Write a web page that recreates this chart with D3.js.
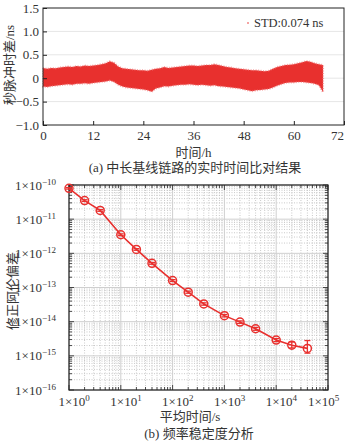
<!DOCTYPE html>
<html><head><meta charset="utf-8">
<script src="https://cdn.jsdelivr.net/npm/d3@7/dist/d3.min.js"></script>
<style>
body{margin:0;background:#fff;}
svg{display:block;}
</style></head><body>
<svg id="c" width="347" height="443"></svg>
<script>
// ---- Panel (a) data: envelope of pulse-per-second time difference (ns) per hour ----
const hours = d3.range(0, 68);
const upperNs = [0.22,0.20,0.22,0.21,0.23,0.24,0.25,0.24,0.26,0.25,0.27,0.26,0.27,0.28,0.30,0.32,0.36,0.33,0.25,0.21,
  0.20,0.19,0.18,0.17,0.17,0.16,0.18,0.20,0.21,0.24,0.22,0.23,0.24,0.25,0.26,0.27,0.27,0.26,0.27,0.28,
  0.28,0.30,0.28,0.26,0.24,0.23,0.21,0.20,0.19,0.18,0.17,0.17,0.16,0.15,0.16,0.20,0.24,0.26,0.28,0.29,
  0.30,0.32,0.34,0.37,0.35,0.32,0.30,0.28];
const lowerNs = [-0.18,-0.19,-0.17,-0.16,-0.15,-0.14,-0.13,-0.14,-0.12,-0.12,-0.11,-0.12,-0.10,-0.09,-0.08,-0.07,-0.05,-0.08,-0.14,-0.18,
  -0.20,-0.21,-0.22,-0.23,-0.24,-0.26,-0.29,-0.22,-0.20,-0.17,-0.18,-0.16,-0.15,-0.14,-0.14,-0.13,-0.14,-0.15,-0.14,-0.15,
  -0.16,-0.15,-0.17,-0.18,-0.19,-0.20,-0.21,-0.22,-0.24,-0.26,-0.28,-0.26,-0.25,-0.24,-0.23,-0.20,-0.16,-0.13,-0.10,-0.09,
  -0.09,-0.08,-0.08,-0.09,-0.10,-0.12,-0.15,-0.30];
const xTicksA = [0,12,24,36,48,60,72];
const yTicksA = [-1.0,-0.5,0,0.5,1.0,1.5];
const yTickLabelsA = ["\u22121.0","\u22120.5","0","0.5","1.0","1.5"];
const legendA = "STD:0.074 ns";

// ---- Panel (b) data: modified Allan deviation ----
const tau = [1,2,4,10,20,40,100,200,400,1000,2000,4000,10000,20000,40000];
const mdev = [8.0e-11,3.5e-11,1.8e-11,3.5e-12,1.3e-12,5.1e-13,1.6e-13,7.3e-14,3.3e-14,1.5e-14,9.7e-15,6.2e-15,2.9e-15,2.05e-15,1.65e-15];
const errHi = [8.4e-11,3.7e-11,1.9e-11,3.7e-12,1.37e-12,5.4e-13,1.7e-13,7.8e-14,3.55e-14,1.62e-14,1.05e-14,6.8e-15,3.2e-15,2.55e-15,2.8e-15];
const errLo = [7.6e-11,3.3e-11,1.7e-11,3.3e-12,1.23e-12,4.8e-13,1.5e-13,6.8e-14,3.05e-14,1.38e-14,8.9e-15,5.6e-15,2.6e-15,1.7e-15,1.2e-15];
const xExpB = [0,1,2,3,4,5];
const yExpB = [-10,-11,-12,-13,-14,-15,-16];

const red = "#e8302e";
const FONT = "'Liberation Serif','Times New Roman','DejaVu Serif','Noto Sans CJK SC',serif";
const svg = d3.select("#c");
function txt(sel){ return sel.style("font-family",FONT).attr("fill","#333"); }

// ================= Panel (a) =================
{
  const L=43,R=344,T=8,B=125;
  const x = d3.scaleLinear().domain([0,72]).range([L,R]);
  const y = d3.scaleLinear().domain([-1,1.5]).range([B,T]);
  const g = svg.append("g");
  g.selectAll("line.gy").data(yTicksA.filter(v=>v>-1&&v<1.5)).join("line")
    .attr("x1",L).attr("x2",R).attr("y1",d=>y(d)).attr("y2",d=>y(d))
    .attr("stroke","#e6e6e6").attr("stroke-width",1);
  const pts = hours.map((h,i)=>({h,u:upperNs[i],l:lowerNs[i]}));
  const area = d3.area().x(d=>x(d.h)).y0(d=>y(d.l)).y1(d=>y(d.u));
  g.append("path").datum(pts).attr("d",area)
    .attr("fill",red).attr("stroke","#f07070").attr("stroke-width",2).attr("stroke-opacity",0.6).attr("stroke-dasharray","1,1.5");
  g.append("rect").attr("x",L).attr("y",T).attr("width",R-L).attr("height",B-T)
    .attr("fill","none").attr("stroke","#222").attr("stroke-width",1);
  const ax = d3.axisBottom(x).tickValues(xTicksA).tickSize(-4).tickPadding(6).tickFormat(d3.format("d"));
  const gx = g.append("g").attr("transform",`translate(0,${B})`).call(ax);
  const ay = d3.axisLeft(y).tickValues(yTicksA).tickSize(-4).tickPadding(4).tickFormat((d,i)=>yTickLabelsA[i]);
  const gy = g.append("g").attr("transform",`translate(${L},0)`).call(ay);
  [gx,gy].forEach(s=>{s.select(".domain").remove();s.selectAll("line").attr("stroke","#222");
    txt(s.selectAll("text")).style("font-size","13px");});
  gx.selectAll("text").filter(d=>d===72).attr("dx","-7");
  txt(g.append("text")).attr("x",(L+R)/2).attr("y",157).attr("text-anchor","middle").style("font-size","13px").text("时间/h");
  txt(g.append("text")).attr("transform","translate(14,65) rotate(-90)").attr("text-anchor","middle").style("font-size","13px").text("秒脉冲时差/ns");
  g.append("circle").attr("cx",248).attr("cy",23).attr("r",0.8).attr("fill",red);
  txt(g.append("text")).attr("x",254).attr("y",27).style("font-size","12.5px").text(legendA);
  txt(g.append("text")).attr("x",195).attr("y",172).attr("text-anchor","middle").style("font-size","13px").text("(a) 中长基线链路的实时时间比对结果");
}

// ================= Panel (b) =================
{
  const L=69,R=328,T=185,B=390;
  const x = d3.scaleLog().domain([1,1e5]).range([L,R]);
  const y = d3.scaleLog().domain([1e-16,1e-10]).range([B,T]);
  const g = svg.append("g");
  const minorX=[], minorY=[];
  for(let e=0;e<5;e++) for(let k=2;k<10;k++) minorX.push(k*Math.pow(10,e));
  for(let e=-16;e<-10;e++) for(let k=2;k<10;k++) minorY.push(k*Math.pow(10,e));
  const majX = xExpB.map(e=>Math.pow(10,e)), majY = yExpB.map(e=>Math.pow(10,e));
  g.selectAll("line.mx").data(minorX).join("line").attr("x1",d=>x(d)).attr("x2",d=>x(d)).attr("y1",T).attr("y2",B)
    .attr("stroke","#bdbdbd").attr("stroke-width",0.8).attr("stroke-dasharray","1,1.5");
  g.selectAll("line.my").data(minorY).join("line").attr("y1",d=>y(d)).attr("y2",d=>y(d)).attr("x1",L).attr("x2",R)
    .attr("stroke","#bdbdbd").attr("stroke-width",0.8).attr("stroke-dasharray","1,1.5");
  g.selectAll("line.Mx").data(majX).join("line").attr("x1",d=>x(d)).attr("x2",d=>x(d)).attr("y1",T).attr("y2",B)
    .attr("stroke","#cfcfcf").attr("stroke-width",1);
  g.selectAll("line.My").data(majY).join("line").attr("y1",d=>y(d)).attr("y2",d=>y(d)).attr("x1",L).attr("x2",R)
    .attr("stroke","#cfcfcf").attr("stroke-width",1);
  const tk = g.append("g").attr("stroke","#222").attr("stroke-width",0.8);
  minorX.forEach(v=>{tk.append("line").attr("x1",x(v)).attr("x2",x(v)).attr("y1",B).attr("y2",B-3);
    tk.append("line").attr("x1",x(v)).attr("x2",x(v)).attr("y1",T).attr("y2",T+3);});
  majX.forEach(v=>{tk.append("line").attr("x1",x(v)).attr("x2",x(v)).attr("y1",B).attr("y2",B-5);
    tk.append("line").attr("x1",x(v)).attr("x2",x(v)).attr("y1",T).attr("y2",T+5);});
  minorY.forEach(v=>{tk.append("line").attr("y1",y(v)).attr("y2",y(v)).attr("x1",L).attr("x2",L+3);
    tk.append("line").attr("y1",y(v)).attr("y2",y(v)).attr("x1",R).attr("x2",R-3);});
  majY.forEach(v=>{tk.append("line").attr("y1",y(v)).attr("y2",y(v)).attr("x1",L).attr("x2",L+5);
    tk.append("line").attr("y1",y(v)).attr("y2",y(v)).attr("x1",R).attr("x2",R-5);});
  g.append("rect").attr("x",L).attr("y",T).attr("width",R-L).attr("height",B-T)
    .attr("fill","none").attr("stroke","#222").attr("stroke-width",1.2);
  xExpB.forEach(e=>{
    const shift = e===5 ? -20 : -10.5;
    const t=txt(g.append("text")).attr("x",x(Math.pow(10,e))+shift).attr("y",B+16).style("font-size","13px");
    t.append("tspan").text("1×10");
    t.append("tspan").attr("dy","-5").style("font-size","9px").text(e);
  });
  yExpB.forEach(e=>{
    const t=txt(g.append("text")).attr("x",L-13).attr("y",y(Math.pow(10,e))+4.5).attr("text-anchor","end").style("font-size","13px");
    t.append("tspan").text("1×10");
    t.append("tspan").attr("dy","-5").style("font-size","9px").text("\u2212"+(-e));
  });
  const pts = tau.map((t,i)=>({t,v:mdev[i],hi:errHi[i],lo:errLo[i]}));
  g.append("path").datum(pts).attr("d",d3.line().x(d=>x(d.t)).y(d=>y(d.v)))
    .attr("fill","none").attr("stroke",red).attr("stroke-width",1.6);
  const eb = g.append("g").attr("stroke",red).attr("stroke-width",1.3);
  pts.forEach(d=>{
    eb.append("line").attr("x1",x(d.t)).attr("x2",x(d.t)).attr("y1",y(d.hi)).attr("y2",y(d.lo));
    eb.append("line").attr("x1",x(d.t)-3).attr("x2",x(d.t)+3).attr("y1",y(d.hi)).attr("y2",y(d.hi));
    eb.append("line").attr("x1",x(d.t)-3).attr("x2",x(d.t)+3).attr("y1",y(d.lo)).attr("y2",y(d.lo));
  });
  g.selectAll("circle.m").data(pts).join("circle").attr("cx",d=>x(d.t)).attr("cy",d=>y(d.v)).attr("r",4)
    .attr("fill","none").attr("stroke",red).attr("stroke-width",1.5);
  txt(g.append("text")).attr("x",190).attr("y",421).attr("text-anchor","middle").style("font-size","13px").text("平均时间/s");
  txt(g.append("text")).attr("transform","translate(17,291) rotate(-90)").attr("text-anchor","middle").style("font-size","13px").text("修正阿伦偏差");
  txt(g.append("text")).attr("x",199).attr("y",438).attr("text-anchor","middle").style("font-size","13px").text("(b) 频率稳定度分析");
}
</script>
</body></html>
